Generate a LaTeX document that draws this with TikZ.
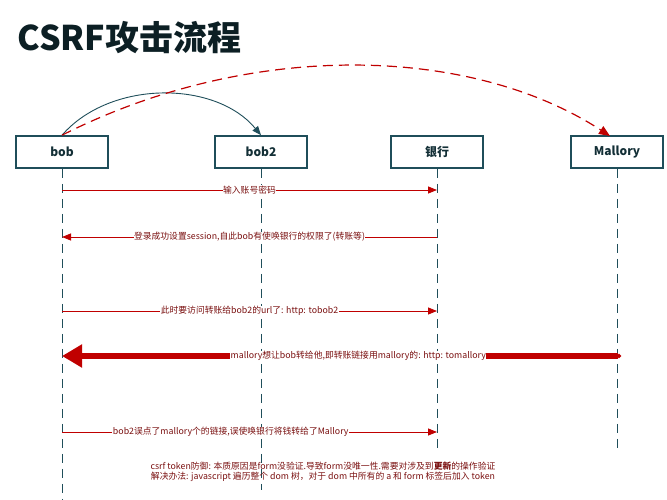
\documentclass[tikz,border=0pt]{standalone}
\usepackage{fontspec}
\setmainfont{Noto Sans CJK SC}
\usetikzlibrary{arrows.meta}
\definecolor{teal}{HTML}{1F4E5A}
\definecolor{dred}{HTML}{C00000}
\definecolor{lred}{HTML}{B03030}
\definecolor{tred}{HTML}{7A1010}
\tikzset{
 actor/.style={draw=teal,line width=1.6pt,minimum width=92pt,minimum height=32pt,font=\bfseries\fontsize{12}{14}\selectfont,text=teal!60!black},
 life/.style={draw=teal,dash pattern=on 9pt off 6pt,line width=0.8pt},
 msg/.style={draw=lred,line width=0.8pt,-{Triangle[length=9pt,width=7pt]},color=dred},
 lbl/.style={fill=white,inner sep=0.5pt,font=\fontsize{8.8}{10}\selectfont,text=tred},
}
\begin{document}
\begin{tikzpicture}[x=1pt,y=-1pt]
\useasboundingbox (0,0) rectangle (667,500);
\node[anchor=west,font=\bfseries\fontsize{34}{38}\selectfont,text=teal!40!black] (title) at (14,38) {CSRF攻击流程};
\node[actor] (bob) at (62,152) {bob};
\node[actor] (bob2) at (261,152) {bob2};
\node[actor] (bank) at (437,152) {银行};
\node[actor] (mal) at (617,152) {Mallory};
\coordinate (bobE) at (62,500);
\coordinate (bob2E) at (261,490);
\coordinate (bankE) at (437,450);
\coordinate (malE) at (617,450);
\draw[life] (bob.south) -- (bobE);
\draw[life] (bob2.south) -- (bob2E);
\draw[life] (bank.south) -- (bankE);
\draw[life] (mal.south) -- (malE);
\draw[teal,line width=0.9pt,-{Triangle[length=9pt,width=7pt]}] (bob.north) .. controls (110,80) and (215,80) .. (bob2.north);
\coordinate (malT) at (610,136);
\draw[dred,dash pattern=on 10pt off 6pt,line width=1.2pt,-{Triangle[length=11pt,width=9pt]}] (bob.north) .. controls (250,40) and (470,45) .. (malT);
% messages
\coordinate (b1) at (62,190); \coordinate (k1) at (437,190);
\coordinate (b2) at (62,237); \coordinate (k2) at (437,237);
\coordinate (b3) at (62,311); \coordinate (k3) at (437,311);
\coordinate (b4) at (62,356); \coordinate (m4) at (621,356);
\coordinate (b5) at (62,432); \coordinate (k5) at (437,432);
\draw[msg] (b1) -- node[lbl]{输入账号密码} (k1);
\draw[msg] (k2) -- node[lbl]{登录成功设置session,自此bob有使唤银行的权限了(转账等)} (b2);
\draw[msg] (b3) -- node[lbl]{此时要访问转账给bob2的url了: http: tobob2} (k3);
\draw[draw=dred,fill=dred,line width=6pt,{Circle[length=4pt]}-{Triangle[length=20pt,width=22pt]}] (m4) -- node[lbl,pos=0.47]{mallory想让bob转给他,即转账链接用mallory的: http: tomallory} (b4);
\draw[msg] (b5) -- node[lbl,pos=0.45]{bob2误点了mallory个的链接,误使唤银行将钱转给了Mallory} (k5);
\node[lbl,align=center,fill=none] (note) at (323,472) {csrf token防御: 本质原因是form没验证.导致form没唯一性.需要对涉及到\textbf{更新}的操作验证\\解决办法: javascript 遍历整个 dom 树，对于 dom 中所有的 a 和 form 标签后加入 token};
\end{tikzpicture}
\end{document}
